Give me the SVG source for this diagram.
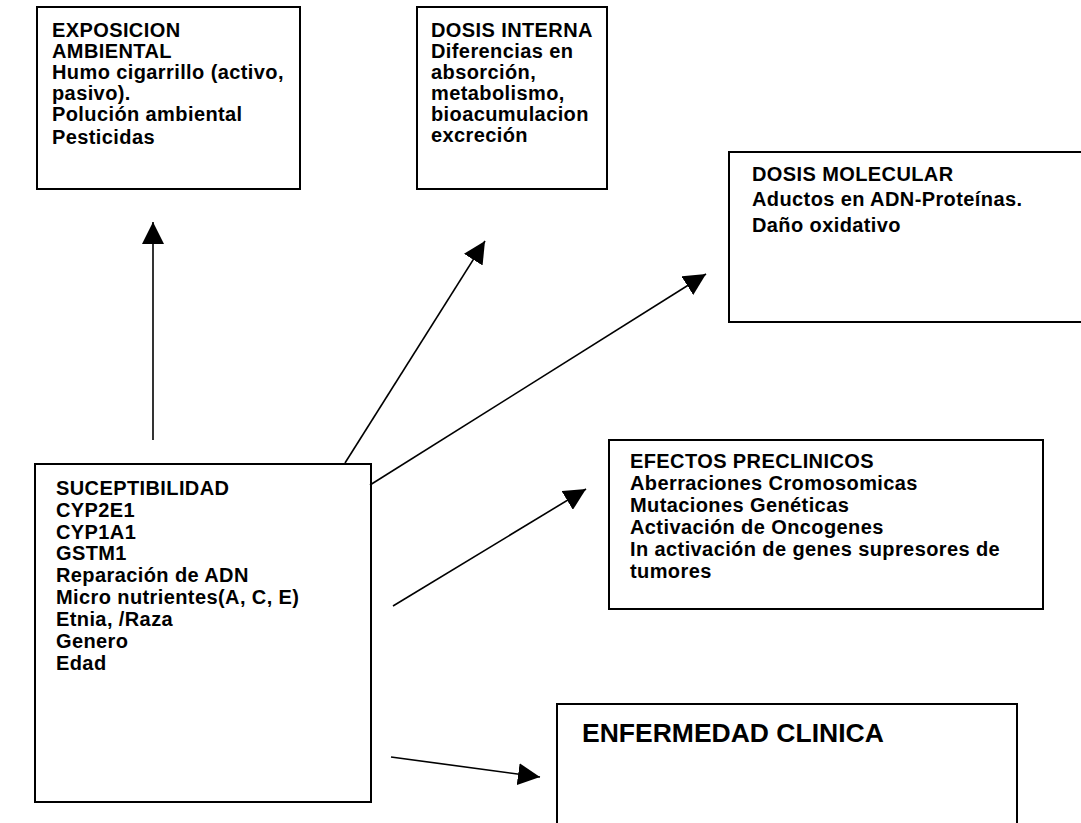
<svg xmlns="http://www.w3.org/2000/svg" width="1081" height="823" viewBox="0 0 1081 823">
<defs>
<style>
.box{fill:#fff;stroke:#000;stroke-width:2}
.t{font-family:"Liberation Sans",Arial,sans-serif;font-weight:bold;font-size:20px;letter-spacing:0.4px;fill:#000}
.big{font-size:26.5px;letter-spacing:0}
.c{stroke:#000;stroke-width:1.6;fill:none;marker-end:url(#ah)}
</style>
<marker id="ah" markerUnits="userSpaceOnUse" markerWidth="22" markerHeight="22" refX="20" refY="10" orient="auto" viewBox="0 0 20 20">
<path d="M0,0 L20,10 L0,20 z" fill="#000"/>
</marker>
</defs>
<rect width="1081" height="823" fill="#fff"/>
<g id="exposicion">
<rect class="box" x="37" y="7" width="263" height="182"/>
<text class="t"><tspan x="52" y="37">EXPOSICION</tspan><tspan x="52" y="58">AMBIENTAL</tspan><tspan x="52" y="79">Humo cigarrillo (activo,</tspan><tspan x="52" y="100">pasivo).</tspan><tspan x="52" y="121">Polución ambiental</tspan><tspan x="52" y="144">Pesticidas</tspan></text>
</g>
<g id="dosis-interna">
<rect class="box" x="417" y="7" width="190" height="182"/>
<text class="t"><tspan x="431" y="37">DOSIS INTERNA</tspan><tspan x="431" y="58">Diferencias en</tspan><tspan x="431" y="79">absorción,</tspan><tspan x="431" y="100">metabolismo,</tspan><tspan x="431" y="121">bioacumulacion</tspan><tspan x="431" y="142">excreción</tspan></text>
</g>
<g id="dosis-molecular">
<rect class="box" x="729" y="152" width="400" height="170"/>
<text class="t"><tspan x="752" y="181">DOSIS MOLECULAR</tspan><tspan x="752" y="206">Aductos en ADN-Proteínas.</tspan><tspan x="752" y="232">Daño oxidativo</tspan></text>
</g>
<g id="suceptibilidad">
<rect class="box" x="35" y="464" width="336" height="338"/>
<text class="t"><tspan x="56" y="495">SUCEPTIBILIDAD</tspan><tspan x="56" y="517">CYP2E1</tspan><tspan x="56" y="539">CYP1A1</tspan><tspan x="56" y="560">GSTM1</tspan><tspan x="56" y="582">Reparación de ADN</tspan><tspan x="56" y="604">Micro nutrientes(A, C, E)</tspan><tspan x="56" y="626">Etnia, /Raza</tspan><tspan x="56" y="648">Genero</tspan><tspan x="56" y="670">Edad</tspan></text>
</g>
<g id="efectos-preclinicos">
<rect class="box" x="609" y="440" width="434" height="169"/>
<text class="t"><tspan x="630" y="468">EFECTOS PRECLINICOS</tspan><tspan x="630" y="490">Aberraciones Cromosomicas</tspan><tspan x="630" y="512">Mutaciones Genéticas</tspan><tspan x="630" y="534">Activación de Oncogenes</tspan><tspan x="630" y="556">In activación de genes supresores de</tspan><tspan x="630" y="578">tumores</tspan></text>
</g>
<g id="enfermedad-clinica">
<rect class="box" x="557" y="704" width="460" height="140"/>
<text class="t big" x="582" y="742">ENFERMEDAD CLINICA</text>
</g>
<g id="connectors">
<line class="c" x1="153" y1="440" x2="153" y2="222"/>
<line class="c" x1="345" y1="463" x2="485" y2="241"/>
<line class="c" x1="370" y1="485" x2="706" y2="274"/>
<line class="c" x1="393" y1="606" x2="586" y2="489"/>
<line class="c" x1="391" y1="757" x2="540" y2="777"/>
</g>
</svg>
